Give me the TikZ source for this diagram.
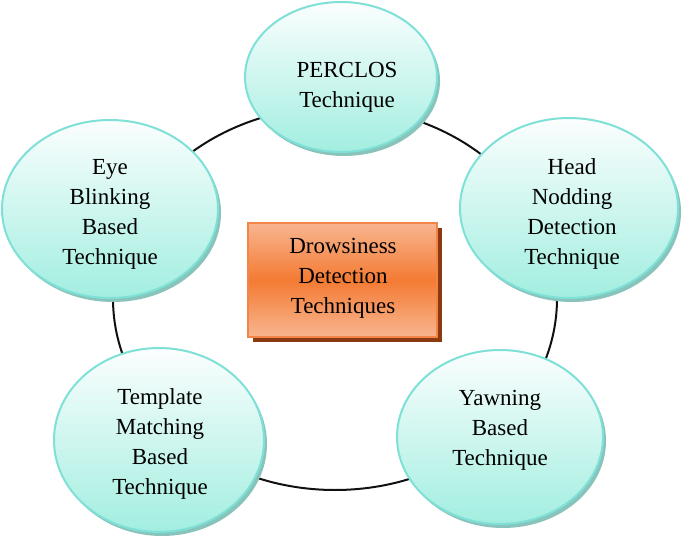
\documentclass[tikz,border=0pt]{standalone}
\usepackage{fontspec}
\setmainfont{Liberation Serif}
\usetikzlibrary{shapes.geometric,shadows}

\definecolor{ringline}{HTML}{111111}
\definecolor{ovalborder}{HTML}{7EE0D6}
\definecolor{ovaltop}{HTML}{FBFEFE}
\definecolor{ovalbottom}{HTML}{A2EEE0}
\definecolor{ovalshadow}{HTML}{88C4BB}
\definecolor{boxborder}{HTML}{F2864A}
\definecolor{boxlight}{HTML}{F8B590}
\definecolor{boxmid}{HTML}{F47B33}
\definecolor{boxshadow}{HTML}{8A3A0E}

% light - strong - light band for the central box
\pgfdeclareverticalshading{boxband}{100bp}{%
  color(0bp)=(boxlight); color(25bp)=(boxlight); color(50bp)=(boxmid);
  color(75bp)=(boxlight); color(100bp)=(boxlight)}

\tikzset{
  oval/.style={ellipse, draw=ovalborder, line width=2pt, inner sep=0pt,
    top color=ovaltop, bottom color=ovalbottom,
    drop shadow={shadow xshift=3pt, shadow yshift=-4pt, fill=ovalshadow, opacity=1}},
  caption/.style={align=center, font=\fontsize{23}{30}\selectfont, text=black},
  centrebox/.style={rectangle, draw=boxborder, line width=1.8pt, inner sep=0pt,
    minimum width=189pt, minimum height=114pt, shading=boxband,
    drop shadow={shadow xshift=5pt, shadow yshift=-5pt, fill=boxshadow, opacity=1}},
  ring/.style={draw=ringline, line width=2pt}
}

\begin{document}
\begin{tikzpicture}[x=1pt, y=-1pt]
  \useasboundingbox (0,0) rectangle (685,540);

  % the ring joining the five techniques
  \coordinate (ringc) at (335,298.5);
  \draw[ring] (ringc) ellipse [x radius=222pt, y radius=191.5pt];

  % technique ovals
  \node[oval, minimum width=192pt, minimum height=150pt] (perclos) at (341,77) {};
  \node[oval, minimum width=218pt, minimum height=180pt] (head) at (569,208) {};
  \node[oval, minimum width=216pt, minimum height=178pt] (eye) at (110,209) {};
  \node[oval, minimum width=210pt, minimum height=184pt] (template) at (159,440) {};
  \node[oval, minimum width=206pt, minimum height=174pt] (yawn) at (500,437) {};

  % oval captions
  \node[caption] (perclos-t) at (347,87) {PERCLOS\\Technique};
  \node[caption] (head-t) at (572,214) {Head\\Nodding\\Detection\\Technique};
  \node[caption] (eye-t) at (110,214) {Eye\\Blinking\\Based\\Technique};
  \node[caption] (template-t) at (160,444) {Template\\Matching\\Based\\Technique};
  \node[caption] (yawn-t) at (500,430) {Yawning\\Based\\Technique};

  % central box
  \node[centrebox] (centre) at (342.5,280) {};
  \node[caption] (centre-t) at (343,278) {Drowsiness\\Detection\\Techniques};
\end{tikzpicture}
\end{document}
